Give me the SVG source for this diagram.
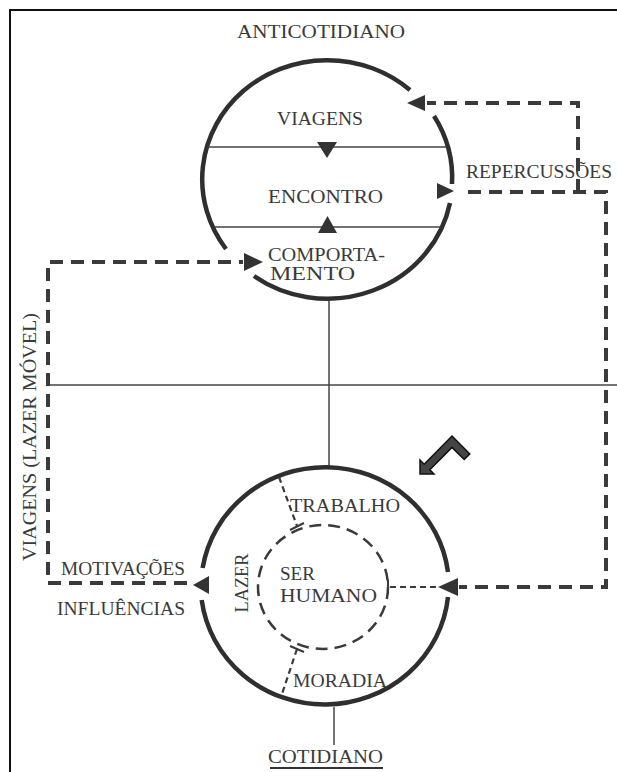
<svg xmlns="http://www.w3.org/2000/svg" width="617" height="772" viewBox="0 0 617 772">
  <style>
    .lbl{font-family:"Liberation Serif","DejaVu Serif",serif;font-size:19px;fill:#3a3a3a}
    .ring{fill:none;stroke:#2f2f2f;stroke-width:4.5}
    .flow{fill:none;stroke:#3a3a3a;stroke-width:4;stroke-dasharray:13 8}
    .thin{fill:none;stroke:#444;stroke-width:1.5}
    .sub{fill:none;stroke:#3a3a3a;stroke-width:2.2;stroke-dasharray:6 4}
    .tick{fill:none;stroke:#3a3a3a;stroke-width:2}
    .head{fill:#333}
  </style>
  <rect width="617" height="772" fill="#fff"/>
  <!-- frame -->
  <path d="M10 772 V10 H617" fill="none" stroke="#111" stroke-width="2"/>

  <!-- axes -->
  <g id="axes">
    <path class="thin" d="M48 385 H617"/>
    <path class="thin" d="M329 299 V467"/>
    <path class="thin" d="M334 707 V745"/>
  </g>

  <!-- upper sphere -->
  <g id="anticotidiano">
    <text class="lbl" x="237" y="38" textLength="168" lengthAdjust="spacingAndGlyphs">ANTICOTIDIANO</text>
    <path class="ring" d="M434 116 A125 119 0 0 1 452 184"/>
    <path class="ring" d="M450 203 A125 119 0 0 1 254 276"/>
    <path class="ring" d="M226 249 A125 119 0 0 1 410 90"/>
    <path class="thin" d="M208 147 H446 M215 227 H441"/>
    <polygon class="head" points="317,142 337,142 327,158"/>
    <polygon class="head" points="318,233 337,233 327.5,216"/>
    <text class="lbl" x="277" y="125" textLength="86" lengthAdjust="spacingAndGlyphs">VIAGENS</text>
    <text class="lbl" x="268" y="203" textLength="115" lengthAdjust="spacingAndGlyphs">ENCONTRO</text>
    <text class="lbl" x="268" y="261" textLength="117" lengthAdjust="spacingAndGlyphs">COMPORTA-</text>
    <text class="lbl" x="270" y="280" textLength="85" lengthAdjust="spacingAndGlyphs">MENTO</text>
  </g>

  <!-- lower sphere -->
  <g id="cotidiano">
    <path class="ring" d="M448 597 A124 120 0 0 1 201.7 600"/>
    <path class="ring" d="M202.6 568 A124 120 0 0 1 448 572"/>
    <ellipse cx="323" cy="587" rx="65" ry="62" fill="none" stroke="#3a3a3a" stroke-width="2.5" stroke-dasharray="12 7"/>
    <path class="sub" d="M279 477 L297 526"/>
    <path class="tick" d="M290 530 L304 523"/>
    <path class="sub" d="M297 649 L282 694"/>
    <path class="tick" d="M290 646 L304 652"/>
    <text class="lbl" x="290" y="512" textLength="110" lengthAdjust="spacingAndGlyphs">TRABALHO</text>
    <text class="lbl" x="280" y="580" textLength="35" lengthAdjust="spacingAndGlyphs">SER</text>
    <text class="lbl" x="280" y="602" textLength="97" lengthAdjust="spacingAndGlyphs">HUMANO</text>
    <text class="lbl" x="293" y="687" textLength="94" lengthAdjust="spacingAndGlyphs">MORADIA</text>
    <text class="lbl" transform="translate(248,583) rotate(-90)" text-anchor="middle" textLength="59" lengthAdjust="spacingAndGlyphs">LAZER</text>
    <text class="lbl" x="268" y="763" textLength="115" lengthAdjust="spacingAndGlyphs">COTIDIANO</text>
    <path d="M270 768 H383" stroke="#333" stroke-width="2"/>
  </g>

  <!-- side labels -->
  <g id="viagens-lazer-movel">
    <text class="lbl" transform="translate(36,437) rotate(-90)" text-anchor="middle" textLength="248" lengthAdjust="spacingAndGlyphs">VIAGENS (LAZER MÓVEL)</text>
  </g>
  <g id="motivacoes">
    <text class="lbl" x="61" y="575" textLength="124" lengthAdjust="spacingAndGlyphs">MOTIVAÇÕES</text>
    <text class="lbl" x="57" y="615" textLength="128" lengthAdjust="spacingAndGlyphs">INFLUÊNCIAS</text>
  </g>
  <g id="repercussoes">
    <text class="lbl" x="466" y="178" textLength="146" lengthAdjust="spacingAndGlyphs">REPERCUSSÕES</text>
  </g>

  <!-- dashed flows between the spheres -->
  <g id="connectors">
    <path class="flow" d="M187 583 H48 V262 H243"/>
    <path class="flow" d="M468 192 H606 V587 H459"/>
    <path class="flow" d="M578 192 V103 H427"/>
    <path class="sub" d="M390 587 H437"/>
    <path class="tick" d="M388 580 V594"/>
    <polygon class="head" points="407,103 425,95 425,111"/>
    <polygon class="head" points="454,191 437,183 437,199"/>
    <polygon class="head" points="263,262 244,253 244,271"/>
    <polygon class="head" points="193,585 209,576 209,594"/>
    <polygon class="head" points="438,587 458,578 458,596"/>
  </g>

  <!-- bent pointer -->
  <g id="pointer">
    <polygon points="452,436 469.8,453.9 464.2,459.5 452,447.4 429.8,469.8 434,474 420,474 420,460 424.2,464.2" fill="#444" stroke="#111" stroke-width="1.5"/>
  </g>
</svg>
